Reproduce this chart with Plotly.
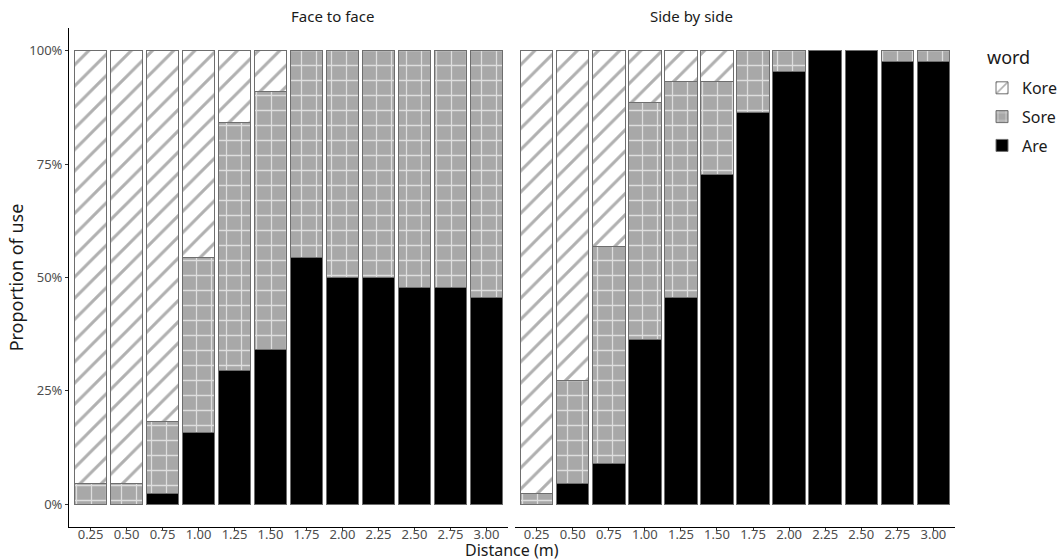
import plotly.graph_objects as go

distances = ["0.25", "0.50", "0.75", "1.00", "1.25", "1.50",
             "1.75", "2.00", "2.25", "2.50", "2.75", "3.00"]

# proportions
face_are = [0.0, 0.0, 0.023, 0.159, 0.295, 0.341, 0.545, 0.500, 0.500, 0.477, 0.477, 0.455]
face_sore = [0.045, 0.045, 0.159, 0.386, 0.546, 0.568, 0.455, 0.500, 0.500, 0.523, 0.523, 0.545]
face_kore = [0.955, 0.955, 0.818, 0.455, 0.159, 0.091, 0.0, 0.0, 0.0, 0.0, 0.0, 0.0]

side_are = [0.0, 0.045, 0.091, 0.364, 0.455, 0.727, 0.864, 0.955, 1.0, 1.0, 0.977, 0.977]
side_sore = [0.023, 0.228, 0.477, 0.522, 0.477, 0.205, 0.136, 0.045, 0.0, 0.0, 0.023, 0.023]
side_kore = [0.977, 0.727, 0.432, 0.114, 0.068, 0.068, 0.0, 0.0, 0.0, 0.0, 0.0, 0.0]

panels = ["Face to face", "Side by side"]
words = ["Are", "Sore", "Kore"]
legend_ranks = {"Kore": 1, "Sore": 2, "Are": 3}

FONT = "Noto Sans"

styles = {
    "Are": dict(color="black", pattern=dict(shape="")),
    "Sore": dict(color="#a8a8a8", pattern=dict(shape="+", fgcolor="#dedede", bgcolor="#a8a8a8",
                                              size=15, solidity=0.16, fillmode="replace")),
    "Kore": dict(color="white", pattern=dict(shape="/", fgcolor="#b0b0b0", bgcolor="white",
                                             size=15, solidity=0.2, fillmode="replace")),
}

data = {
    ("Face to face", "Are"): face_are, ("Face to face", "Sore"): face_sore, ("Face to face", "Kore"): face_kore,
    ("Side by side", "Are"): side_are, ("Side by side", "Sore"): side_sore, ("Side by side", "Kore"): side_kore,
}

fig = go.Figure()
for i, panel in enumerate(panels):
    xa = "x" if i == 0 else "x2"
    for w in words:
        st = styles[w]
        marker = dict(color=st["color"], line=dict(color="#6e6e6e", width=1))
        if st["pattern"]["shape"]:
            marker["pattern"] = st["pattern"]
        fig.add_trace(go.Bar(
            x=distances, y=data[(panel, w)], name=w, legendgroup=w, legendrank=legend_ranks[w],
            showlegend=(i == 0), marker=marker, xaxis=xa, yaxis="y",
        ))

axis_common = dict(
    type="category", range=[-0.6, 11.6], showline=True, linecolor="black", linewidth=1,
    ticks="outside", ticklen=3, tickcolor="#333", showgrid=False, zeroline=False,
    ticklabelposition="outside", ticklabelstandoff=-8,
    tickfont=dict(family=FONT, size=13, color="#4d4d4d"),
)

fig.update_layout(
    width=1059, height=560,
    barmode="stack", bargap=0.1,
    plot_bgcolor="white", paper_bgcolor="white",
    margin=dict(l=69, r=104, t=28, b=33, autoexpand=False),
    font=dict(family=FONT, color="#1a1a1a"),
    xaxis=dict(domain=[0, 0.4955], **axis_common),
    xaxis2=dict(domain=[0.5034, 1], **axis_common),
    yaxis=dict(range=[-0.05, 1.05], tickvals=[0, 0.25, 0.5, 0.75, 1.0], tickformat=".0%",
               showline=True, linecolor="black", linewidth=1, ticks="outside", ticklen=3,
               tickcolor="#333", showgrid=False, zeroline=False,
               tickfont=dict(family=FONT, size=13, color="#4d4d4d"),
               title=dict(text="Proportion of use", font=dict(size=18, family=FONT), standoff=0)),
    legend=dict(traceorder="grouped",
                x=1.0305, y=0.914, xanchor="left", yanchor="top",
                font=dict(size=16, family=FONT), tracegroupgap=5, itemwidth=30),
    annotations=[
        dict(text="word", x=1.034, y=0.942, xref="paper", yref="paper", xanchor="left",
             yanchor="middle", showarrow=False, font=dict(size=18, family=FONT, color="#1a1a1a")),
        dict(text="Face to face", x=0.2478, y=1.0, xref="paper", yref="paper", yanchor="bottom",
             yshift=0, showarrow=False, font=dict(size=15, family=FONT, color="#1a1a1a")),
        dict(text="Side by side", x=0.7517, y=1.0, xref="paper", yref="paper", yanchor="bottom",
             yshift=0, showarrow=False, font=dict(size=15, family=FONT, color="#1a1a1a")),
        dict(text="Distance (m)", x=0.5, y=0, xref="paper", yref="paper", yanchor="top",
             yshift=-10, showarrow=False, font=dict(size=16, family=FONT, color="#1a1a1a")),
    ],
)

fig.write_html("out.html", config={"displayModeBar": False},
               post_script="document.body.style.margin='0';document.body.style.overflow='hidden';")
